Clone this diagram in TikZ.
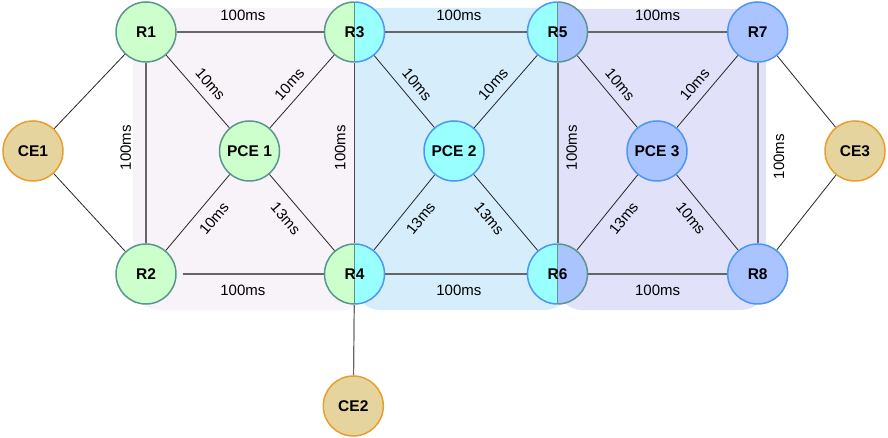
\documentclass[tikz,border=0pt]{standalone}
\usepackage{fontspec}
\setmainfont{Liberation Sans}
\definecolor{PinkZone}{HTML}{F8F3F8}
\definecolor{BlueZone}{HTML}{D6EEFB}
\definecolor{LavZone}{HTML}{E1E1FA}
\definecolor{GreenFill}{HTML}{CCFFCC}
\definecolor{CyanFill}{HTML}{99FFFF}
\definecolor{LavFill}{HTML}{A9C4FF}
\definecolor{SandFill}{HTML}{E6D49F}
\definecolor{TealLine}{HTML}{5A968F}
\definecolor{BlueLine}{HTML}{4C96F5}
\definecolor{OrangeLine}{HTML}{E89E2C}
\definecolor{LinkGray}{HTML}{666666}
\def\rad{30pt}
\tikzset{router/.style={circle, minimum size=2*\rad, inner sep=0pt, line width=1.5pt, font=\fontsize{15.5}{18}\selectfont\bfseries}}
\tikzset{grn/.style={router, draw=TealLine, fill=GreenFill}}
\tikzset{cyn/.style={router, draw=BlueLine, fill=CyanFill}}
\tikzset{lav/.style={router, draw=BlueLine, fill=LavFill}}
\tikzset{ce/.style={router, draw=OrangeLine, fill=SandFill}}
\tikzset{halves/.style 2 args={router, fill=white, path picture={
  \fill[#1] (path picture bounding box.south west) rectangle (path picture bounding box.north);
  \fill[#2] (path picture bounding box.south) rectangle (path picture bounding box.north east);
  \draw[TealLine, line width=1.5pt] (path picture bounding box.south) -- (path picture bounding box.north);}}}
\tikzset{zone/.style={rounded corners=25pt}}
\tikzset{link/.style={line width=2pt, LinkGray}}
\tikzset{wire/.style={line width=0.8pt, black!85}}
\tikzset{lbl/.style={font=\fontsize{15}{17}\selectfont, text=black, outer sep=0pt, inner sep=1pt}}

\begin{document}
\begin{tikzpicture}[x=1pt, y=1pt]
  \useasboundingbox (0,0) rectangle (888,-438);
  % Domains
  \fill[zone, PinkZone] (133,-8) rectangle (367,-310);
  \fill[zone, BlueZone] (355,-8) rectangle (570,-310);
  \fill[zone, LavZone] (557,-9) rectangle (766,-310);

  % Routers and PCEs
  \node[grn] (R1) at (146,-32) {R1};
  \node[grn] (R2) at (146,-274) {R2};
  \node[grn] (PCE1) at (249.5,-151) {PCE 1};
  \node[halves={GreenFill}{CyanFill}] (R3) at (354.5,-32) {R3};
  \node[halves={GreenFill}{CyanFill}] (R4) at (354.5,-274) {R4};
  \node[cyn] (PCE2) at (454,-151) {PCE 2};
  \node[halves={CyanFill}{LavFill}] (R5) at (557.5,-32) {R5};
  \node[halves={CyanFill}{LavFill}] (R6) at (557.5,-274) {R6};
  \node[lav] (PCE3) at (657,-151) {PCE 3};
  \node[lav] (R7) at (757.7,-32) {R7};
  \node[lav] (R8) at (757.7,-274) {R8};
  \node[ce] (CE1) at (33,-151) {CE1};
  \node[ce] (CE2) at (353.3,-406) {CE2};
  \node[ce] (CE3) at (855,-151) {CE3};

  % Border halves of shared routers
  \foreach \n/\lc/\rc in {R3/TealLine/BlueLine, R4/TealLine/BlueLine, R5/BlueLine/TealLine, R6/BlueLine/TealLine} {
    \draw[\lc, line width=1.5pt] ([yshift=\rad]\n.center) arc[start angle=90, end angle=270, radius=\rad];
    \draw[\rc, line width=1.5pt] ([yshift=-\rad]\n.center) arc[start angle=-90, end angle=90, radius=\rad];
  }

  % 100ms trunks
  \draw[link] (R1) -- node[lbl, pos=0.45, above=10pt] {100ms} (R3);
  \draw[link] (R3) -- node[lbl, pos=0.52, above=10pt] {100ms} (R5);
  \draw[link] (R5) -- node[lbl, above=10pt] {100ms} (R7);
  \draw[link, shorten <=6pt] (R2) -- node[lbl, pos=0.45, below=10pt] {100ms} (R4);
  \draw[link] (R4) -- node[lbl, pos=0.52, below=10pt] {100ms} (R6);
  \draw[link] (R6) -- node[lbl, below=10pt] {100ms} (R8);
  \draw[link] (R2) -- node[lbl, rotate=90, above=14pt, pos=0.53] {100ms} (R1);
  \draw[link, line width=1.2pt, black!70] (R4) -- node[lbl, rotate=90, above=8pt, pos=0.53] {100ms} (R3);
  \draw[link] (R6) -- node[lbl, rotate=90, below=8pt, pos=0.53] {100ms} (R5);
  \draw[link] (R8) -- node[lbl, rotate=90, below=15pt, pos=0.48] {100ms} (R7);

  % PCE links
  \foreach \r/\p in {R1/PCE1, R3/PCE1, R3/PCE2, R5/PCE2, R5/PCE3, R7/PCE3}
    \draw[wire] (\r) -- node[lbl, sloped, above=8pt, pos=0.53] {10ms} (\p);
  \foreach \r/\p/\d in {R2/PCE1/10, R4/PCE1/13, R4/PCE2/13, R6/PCE2/13, R6/PCE3/13, R8/PCE3/10}
    \draw[wire] (\r) -- node[lbl, sloped, below=10pt, pos=0.56] {\d ms} (\p);

  % Customer edges
  \draw[wire] (CE1) -- (R1);
  \draw[wire] (CE1) -- (R2);
  \draw[wire] (CE3) -- (R7);
  \draw[wire] (CE3) -- (R8);
  \draw[link, line width=1.2pt] (R4) -- (CE2);
\end{tikzpicture}
\end{document}
